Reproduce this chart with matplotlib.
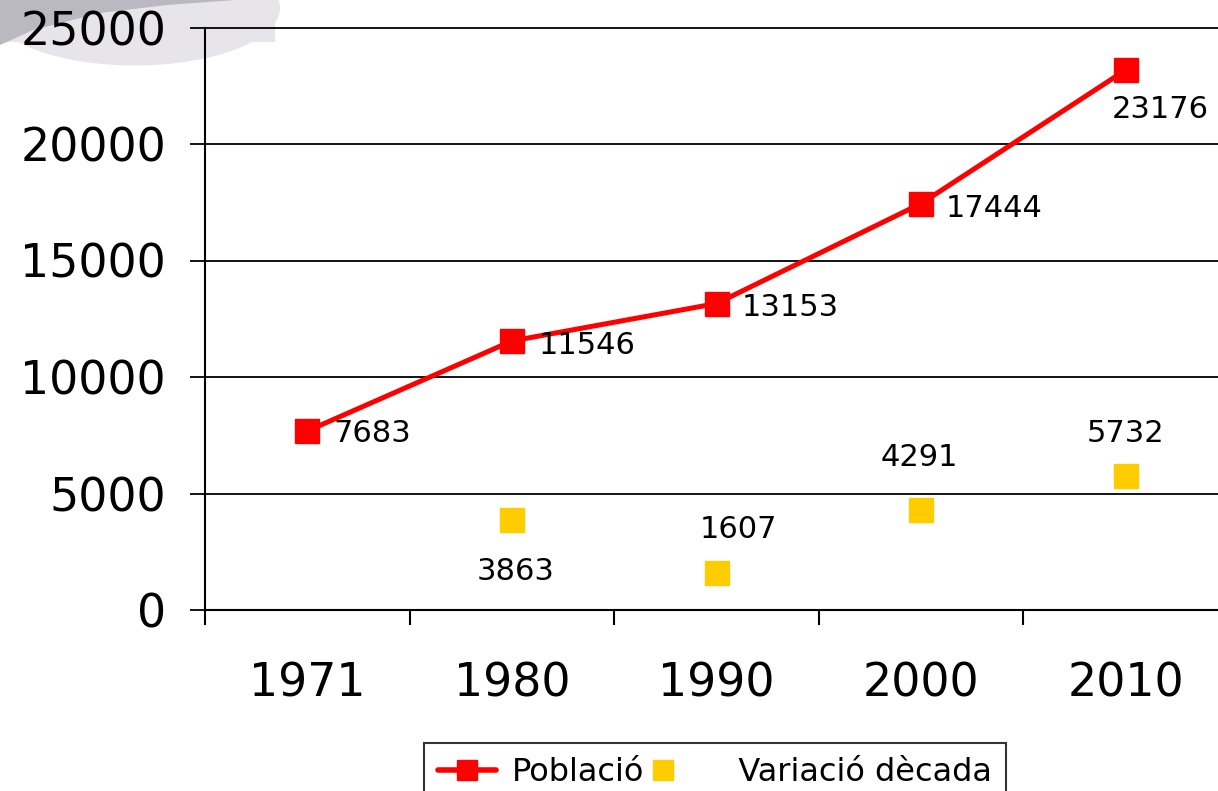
import matplotlib
matplotlib.use("Agg")
import matplotlib.pyplot as plt
import numpy as np
from matplotlib.patches import Ellipse, Polygon, Rectangle
from matplotlib.lines import Line2D

years = ["1971", "1980", "1990", "2000", "2010"]
poblacio = [7683, 11546, 13153, 17444, 23176]
variacio = [np.nan, 3863, 1607, 4291, 5732]
yticks = [0, 5000, 10000, 15000, 20000, 25000]

W, H = 1218, 791
fig = plt.figure(figsize=(W / 100, H / 100), dpi=100)
plt.rcParams['font.family'] = ['DejaVu Sans']

# decorative gray blob top-left (pixel coords -> figure fraction)
def P(px, py): return (px / W, 1 - py / H)
light = '#e7e5e9'
dark = '#bab8c0'
fig.patches.append(Ellipse(P(135, 8), 290 / W, 115 / H, transform=fig.transFigure,
                           facecolor=light, edgecolor='none', zorder=0))
fig.patches.append(Rectangle(P(0, 42), 275 / W, 42 / H, transform=fig.transFigure,
                             facecolor=light, edgecolor='none', zorder=0))
fig.patches.append(Polygon([P(0, 0), P(0, 45), P(33, 30), P(100, 13), P(167, 5), P(235, 0)],
                           closed=True, transform=fig.transFigure,
                           facecolor=dark, edgecolor='none', zorder=0))

ax = fig.add_axes([205 / W, 1 - 610 / H, 1023 / W, (610 - 27.5) / H])
ax.set_zorder(2)
ax.patch.set_alpha(0)

x = np.arange(len(years))
ax.plot(x, poblacio, color='#ff0000', lw=3.6, marker='s', markersize=17.3,
        solid_capstyle='round', zorder=4, label='Població')
ax.plot(x, variacio, color='#ffcc00', lw=0, marker='s', markersize=17.3,
        zorder=4, label='Variació dècada')

ax.set_xlim(-0.5, len(years) - 0.5)
ax.set_ylim(0, 25000)
ax.set_yticks(yticks)
ax.set_yticklabels([str(v) for v in yticks])
ax.yaxis.grid(True, color='black', lw=1.3)
for gl in ax.get_ygridlines():
    gl.set_clip_on(False)
ax.set_axisbelow(True)

ax.set_xticks(x)
ax.set_xticklabels(years)
ax.set_xticks(np.arange(len(years) + 1) - 0.5, minor=True)
ax.tick_params(axis='x', which='major', length=0, labelsize=33, pad=37)
ax.tick_params(axis='x', which='minor', length=11, width=1.5, direction='out')
ax.tick_params(axis='y', length=11, width=1.3, direction='out', labelsize=33, pad=17)

for s in ['top', 'right']:
    ax.spines[s].set_visible(False)
ax.spines['left'].set_linewidth(1.5)
ax.spines['bottom'].set_linewidth(1.5)

fs = 22
red_offsets = [(26, -3, 'left'), (27, -5, 'left'), (25, -4, 'left'), (25, -5, 'left'), (35, -40, 'center')]
for xi, v, (dx, dy, ha) in zip(x, poblacio, red_offsets):
    ax.annotate(str(v), (xi, v), xytext=(dx, dy), textcoords='offset pixels',
                ha=ha, va='center', fontsize=fs, color='black', zorder=5)

yel_offsets = [(0, 0), (4, -52), (22, 43), (-2, 53), (0, 43)]
for xi, v, (dx, dy) in zip(x, variacio, yel_offsets):
    if np.isnan(v):
        continue
    ax.annotate(str(int(v)), (xi, v), xytext=(dx, dy), textcoords='offset pixels',
                ha='center', va='center', fontsize=fs, color='black', zorder=5)

handles = [Line2D([], [], color='#ff0000', lw=4, marker='s', markersize=15,
                  solid_capstyle='round'),
           Line2D([], [], color='#ffcc00', lw=0, marker='s', markersize=14)]
leg = fig.legend(handles, ['Població', '   Variació dècada'], loc='upper center',
                 bbox_to_anchor=(715 / W, 1 - 743 / H), ncol=2, fontsize=23,
                 frameon=True, fancybox=False, handlelength=1.8, handletextpad=0.5,
                 columnspacing=-0.3, borderpad=0.45, borderaxespad=0)
leg.get_frame().set_edgecolor('black')
leg.get_frame().set_linewidth(1.5)

fig.savefig('out.png', dpi=100)
